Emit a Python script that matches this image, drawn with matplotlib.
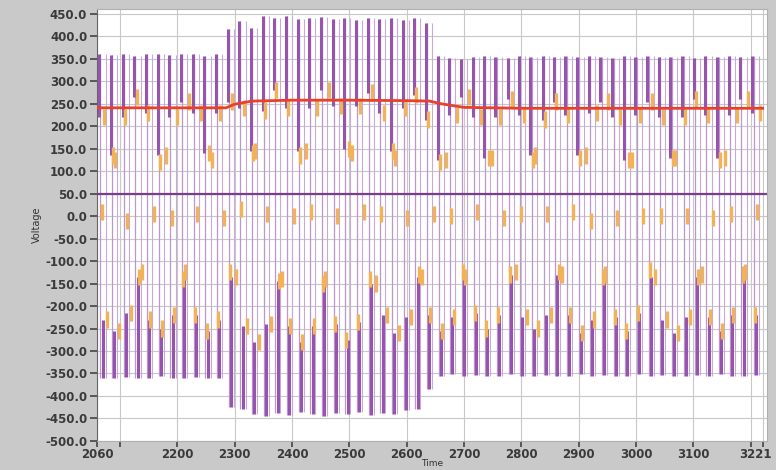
import matplotlib
matplotlib.use('Agg')
import matplotlib.pyplot as plt
import matplotlib.transforms as mtransforms
import numpy as np

# pulse times (one purple burst every ~20 time units)
pulse_t = [2064, 2084, 2105, 2125, 2145, 2166, 2186, 2206, 2227, 2247, 2267, 2288,
           2308, 2328, 2349, 2369, 2389, 2410, 2430, 2450, 2471, 2491, 2511, 2532,
           2552, 2572, 2593, 2613, 2633, 2654, 2674, 2694, 2715, 2735, 2755, 2776,
           2796, 2816, 2837, 2857, 2877, 2898, 2918, 2938, 2959, 2979, 2999, 3020,
           3040, 3060, 3081, 3101, 3121, 3142, 3162, 3182, 3203]
pulse_top = [360, 358, 360, 356, 360, 360, 358, 360, 360, 357, 360, 417,
             435, 418, 445, 440, 446, 438, 440, 442, 438, 440, 436, 440,
             438, 441, 436, 440, 430, 356, 352, 350, 354, 356, 355, 352,
             356, 354, 356, 355, 356, 354, 356, 355, 352, 356, 354, 356,
             355, 354, 356, 352, 356, 355, 356, 354, 356]
pulse_bot = [-360, -360, -358, -360, -360, -356, -360, -360, -358, -360, -360, -425,
             -430, -440, -445, -438, -442, -436, -440, -444, -438, -440, -436, -442,
             -438, -440, -432, -428, -385, -355, -352, -356, -354, -355, -356, -352,
             -355, -356, -354, -355, -356, -352, -355, -354, -356, -355, -352, -356,
             -354, -355, -356, -354, -355, -352, -356, -355, -354]

# orange phase levels (three interleaved sine-like staircases)
phase_a = [10, 135, 220, 265, 230, 120, -5, -140, -220, -255, -230, -125,
           15, 140, 235, 280, 240, 135, 10, -150, -240, -275, -235, -140,
           5, 145, 240, 270, 215, 120, 0, -125, -215, -250, -220, -130,
           5, 125, 215, 255, 225, 130, -10, -135, -225, -255, -215, -120,
           0, 130, 220, 260, 225, 125, 5, -130, -220]
phase_b = [220, 125, -10, -135, -230, -250, -220, -125, 5, 140, 230, 255,
           240, 145, 5, -145, -245, -280, -245, -140, 0, 150, 245, 275,
           230, 130, -5, -130, -220, -255, -225, -135, 10, 130, 220, 260,
           225, 135, 5, -125, -220, -260, -230, -130, -5, 125, 225, 255,
           220, 130, 0, -135, -225, -255, -220, -125, 10]
phase_c = [-230, -255, -215, -125, 5, 135, 220, 255, 230, 125, -5, -135,
           -245, -280, -240, -140, 0, 145, 240, 280, 245, 140, 10, -150,
           -220, -260, -225, -135, 5, 125, 225, 265, 220, 130, -5, -125,
           -225, -250, -220, -130, 10, 135, 230, 255, 220, 125, 0, -135,
           -230, -260, -225, -130, -5, 130, 225, 260, 230]

# rms trace (red) and the flat purple reference
rms_t = [2060, 2285, 2300, 2330, 2400, 2500, 2600, 2640, 2660, 2700, 2800, 3221]
rms_v = [241, 241, 249, 256, 258, 258, 257, 256, 250, 242, 240, 240]
ref_level = 50

t = np.array(pulse_t, dtype=float)
top = np.array(pulse_top, dtype=float)
bot = np.array(pulse_bot, dtype=float)
pa = np.array(phase_a, dtype=float)
pb = np.array(phase_b, dtype=float)
pc = np.array(phase_c, dtype=float)
hi = np.maximum(np.maximum(pa, pb), pc)
lo = np.minimum(np.minimum(pa, pb), pc)

bg = '#c9c9c9'
fig = plt.figure(figsize=(7.76, 4.70), dpi=100, facecolor=bg)
ax = fig.add_axes([0.125, 0.062, 0.863, 0.918])
ax.set_facecolor('white')

purple = '#9655ad'
light = '#bc96cf'
orange = '#f2b358'

ax.vlines(t + 2, bot, top, color=light, lw=0.9, zorder=2)
ax.vlines(t + 11, bot, top, color='#c8aad8', lw=0.8, zorder=2)
ax.vlines(t, hi, top, color=purple, lw=2.2, zorder=3)
ax.vlines(t + 6, bot, lo, color=purple, lw=2.2, zorder=3)
ax.vlines(t + 4, pa - 18, pa + 18, color=orange, lw=2.4, zorder=4)
ax.vlines(t + 8, pb - 18, pb + 18, color=orange, lw=2.4, zorder=4)
ax.vlines(t + 14, pc - 18, pc + 18, color=orange, lw=2.4, zorder=4)

ax.axhline(ref_level, color='#7a3d8c', lw=1.6, zorder=5)
ax.plot(rms_t, rms_v, color='#e8402a', lw=2.0, zorder=6)

ax.set_xlim(2060, 3228)
ax.set_ylim(-500, 460)
yt = np.arange(-500, 451, 50)
ax.set_yticks(yt)
ax.set_yticklabels(['%.1f' % v for v in yt])
xt = [2060, 2100, 2200, 2300, 2400, 2500, 2600, 2700, 2800, 2900, 3000, 3100, 3200, 3221]
ax.set_xticks(xt)
ax.set_xticklabels(['' if v in (2100, 3200) else str(v) for v in xt])
ax.grid(True, color='#c8c8c8', lw=0.8, zorder=0)
ax.set_axisbelow(True)

ax.tick_params(axis='y', labelsize=8.5, length=5, width=1.2, pad=2, colors='#444444')
ax.tick_params(axis='x', labelsize=8.5, length=4, width=1.2, pad=1, colors='#444444')
for lab in ax.get_xticklabels() + ax.get_yticklabels():
    lab.set_fontweight('bold')
    lab.set_color('#3a3a3a')
# last label sits right at the figure edge, nudge it left a bit
last = ax.get_xticklabels()[-1]
last.set_transform(last.get_transform() +
                   mtransforms.ScaledTranslation(-7 / 100, 0, fig.dpi_scale_trans))

for s in ['top', 'right']:
    ax.spines[s].set_color('#b0b0b0')
ax.spines['left'].set_color('#666666')
ax.spines['bottom'].set_color('#b0b0b0')

ax.set_ylabel('Voltage', fontsize=7, color='#333333', labelpad=2)
ax.set_xlabel('Time', fontsize=6.5, color='#333333', labelpad=-1)

fig.savefig('out.png', dpi=100, facecolor=bg)
